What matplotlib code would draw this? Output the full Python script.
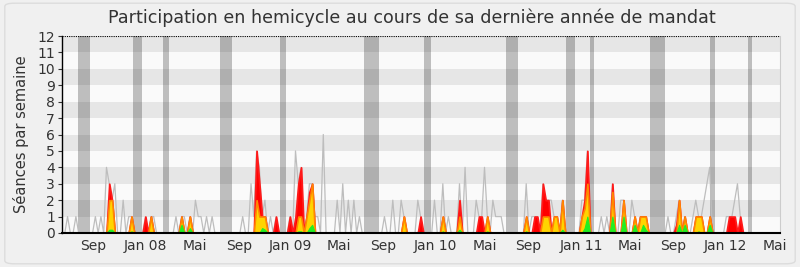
"""Weekly hemicycle participation over the last mandate year(s), nosdeputes-style chart."""
import matplotlib
matplotlib.use("Agg")
import matplotlib.pyplot as plt
import numpy as np
from matplotlib.patches import FancyBboxPatch

N_WEEKS = 259

# grey line: sessions per week (week index -> value)
total_wk = [2, 5, 12, 14, 16, 17, 18, 19, 22, 24, 25, 30, 32, 33, 41, 43, 44, 46, 48, 49, 50, 52, 54,
            65, 68, 69, 70, 71, 72, 73, 75, 77, 82, 84, 85, 86, 88, 89, 90, 91, 92, 94,
            99, 101, 103, 105, 107, 116, 119, 122, 123, 128, 129, 134, 137, 139, 143, 145,
            149, 150, 151, 152, 153, 155, 156, 157, 158, 167, 169, 170, 171, 173, 174, 175,
            176, 177, 178, 180, 187, 188, 189, 194, 196, 198, 201, 202, 205, 206, 208, 209,
            210, 218, 221, 222, 224, 227, 228, 229, 230, 231, 232, 233, 239, 240, 241, 242, 243, 244]
total_val = [1, 1, 1, 1, 4, 3, 2, 3, 2, 1, 1, 1, 1, 1, 1, 1, 1, 1, 2, 1, 1, 1, 1,
             1, 3, 1, 5, 4, 1, 2, 1, 1, 1, 5, 3, 4, 1, 3, 3, 1, 1, 6,
             2, 3, 2, 2, 1, 1, 2, 2, 1, 2, 1, 2, 3, 1, 3, 4,
             2, 1, 1, 4, 1, 2, 1, 1, 1, 3, 1, 1, 1, 3, 2, 2,
             2, 1, 1, 2, 2, 2, 5, 1, 1, 3, 2, 2, 2, 1, 1, 1,
             1, 1, 1, 2, 1, 1, 2, 1, 1, 2, 3, 4, 1, 1, 1, 2, 3, 1]

# red area
red_wk = [17, 18, 25, 30, 32, 43, 46, 70, 71, 72, 73, 77, 82, 84, 85, 86, 88, 89, 90,
          123, 129, 137, 143, 150, 151, 153, 167, 170, 171, 173, 174, 175, 177, 178, 180,
          187, 188, 189, 198, 202, 206, 208, 209, 210, 221, 222, 224, 228, 229, 230, 233,
          240, 241, 242, 244]
red_val = [3, 2, 1, 1, 1, 1, 1, 5, 3, 1, 1, 1, 1, 1, 3, 4, 1, 2.5, 3,
           1, 1, 1, 2, 1, 1, 1, 1, 1, 1, 3, 2, 2, 1, 1, 2,
           1, 2, 5, 3, 2, 1, 1, 1, 1, 0.5, 2, 1, 1, 1, 1, 1,
           1, 1, 1, 1]

# yellow area (orange outline)
yel_wk = [17, 18, 25, 32, 43, 46, 70, 71, 72, 73, 85, 86, 88, 89, 90, 123, 137, 143, 153,
          167, 173, 174, 175, 177, 178, 180, 187, 188, 189, 198, 202, 206, 208, 209, 210,
          222, 224, 228, 229, 230, 233]
yel_val = [2, 2, 1, 1, 1, 1, 2, 1, 1, 1, 1, 1, 1, 2, 3, 1, 1, 1, 1,
           1, 1, 1, 1, 1, 1, 2, 1, 1.5, 3, 2.5, 2, 1, 1, 1, 1,
           2, 1, 1, 1, 1, 1]

# green area
grn_wk = [17, 18, 25, 43, 46, 72, 73, 85, 86, 89, 90, 137, 143, 153, 167, 180, 188, 189,
          198, 202, 206, 209, 210, 222, 224, 229, 233]
grn_val = [0.2, 0.2, 0.1, 0.5, 0.3, 0.3, 0.2, 0.1, 0.1, 0.3, 0.5, 0.1, 0.2, 0.1, 0.1, 0.2, 0.3, 1,
           1, 1, 0.5, 0.5, 0.2, 0.5, 0.5, 0.1, 0.5]

# parliamentary holidays (week positions)
vac_start = [5.8, 25.5, 36.3, 56.8, 78.4, 108.6, 130.2, 159.7, 181.3, 190.0, 211.5, 233.0, 246.8]
vac_end = [10.1, 28.8, 38.5, 61.2, 80.6, 114.0, 132.7, 164.0, 184.5, 191.4, 216.9, 235.0, 248.2]

tick_pos = [11.2, 29.9, 47.8, 63.7, 82.0, 99.6, 115.5, 134.2, 152.2, 167.6, 186.7, 204.3, 219.8, 238.8, 256.5]
tick_lab = ["Sep", "Jan 08", "Mai", "Sep", "Jan 09", "Mai", "Sep", "Jan 10", "Mai",
            "Sep", "Jan 11", "Mai", "Sep", "Jan 12", "Mai"]


def weekly(wk, val):
    s = np.zeros(N_WEEKS)
    s[wk] = val
    return s


def main():
    plt.rcParams["font.family"] = "DejaVu Sans"
    total = weekly(total_wk, total_val)
    red = weekly(red_wk, red_val)
    yel = weekly(yel_wk, yel_val)
    grn = weekly(grn_wk, grn_val)
    x = np.arange(N_WEEKS)

    fig = plt.figure(figsize=(8, 2.67), dpi=100, facecolor="#f0f0f0")
    fig.patches.append(FancyBboxPatch((0.006, 0.012), 0.988, 0.976, boxstyle="round,pad=0,rounding_size=0.012",
                                      transform=fig.transFigure, facecolor="none", edgecolor="#dcdcdc", lw=1))
    ax = fig.add_axes([62 / 800, 1 - 233 / 267, 718 / 800, 197 / 267])

    for k in range(12):
        ax.axhspan(k, k + 1, color="#e6e6e6" if k % 2 else "#fafafa", lw=0, zorder=0)
    for a, b in zip(vac_start, vac_end):
        ax.axvspan(a, b, color="black", alpha=0.24, lw=0, zorder=1)

    ax.plot(x, total, color="#bdbdbd", lw=0.9, zorder=2)
    ax.fill_between(x, 0, red, facecolor="#ff0000", edgecolor="#ff1a1a", lw=1.3, zorder=3)
    ax.fill_between(x, 0, yel, facecolor="#ffd400", edgecolor="#ff8800", lw=1.2, zorder=4)
    ax.fill_between(x, 0, grn, facecolor="#22ee22", edgecolor="#22ee22", lw=0.8, zorder=5)

    ax.set_xlim(0, 258.3)
    ax.set_ylim(0, 12)
    ax.axhline(12, color="black", ls=(0, (1, 1)), lw=0.8, zorder=6)
    ax.set_facecolor("#fafafa")
    ax.spines["top"].set_visible(False)
    ax.spines["right"].set_color("#cccccc")
    ax.spines["left"].set_linewidth(1)
    ax.spines["bottom"].set_linewidth(1.5)
    ax.spines["bottom"].set_zorder(7)

    ax.set_yticks(range(13))
    ax.set_xticks(tick_pos, tick_lab)
    ax.tick_params(axis="y", length=3, width=0.8, labelsize=10, pad=2, colors="#333333")
    ax.tick_params(axis="x", length=0, labelsize=10, pad=4, colors="#333333")
    ax.set_ylabel("Séances par semaine", fontsize=10.5, color="#333333", labelpad=6)

    fig.text(0.515, 1 - 18 / 267, "Participation en hemicycle au cours de sa dernière année de mandat",
             ha="center", va="center", fontsize=12.6, color="#333333")

    fig.savefig("out.png", dpi=100, facecolor=fig.get_facecolor())
    plt.close(fig)


if __name__ == "__main__":
    main()
